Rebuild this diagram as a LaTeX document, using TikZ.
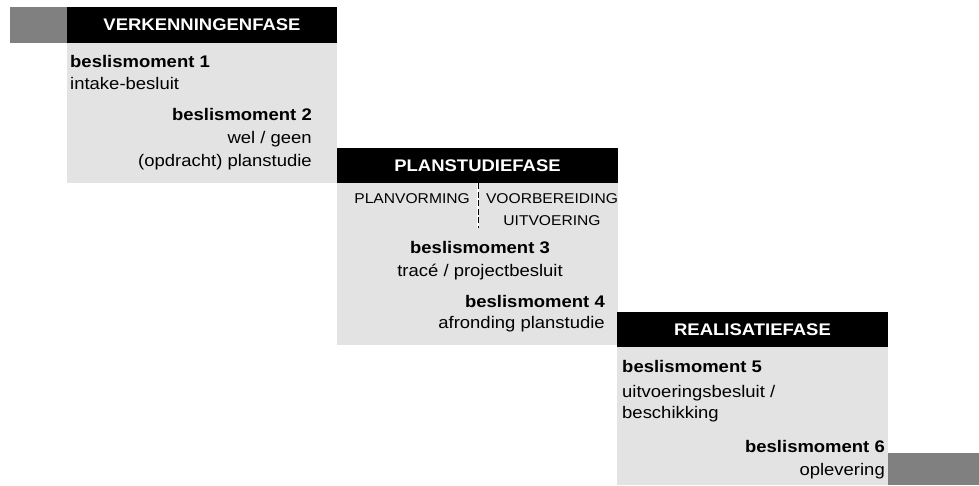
\documentclass[tikz,border=0pt]{standalone}
\usepackage{fontspec}
\setmainfont{Liberation Sans}[FakeStretch=1.1]
\usetikzlibrary{positioning}
\definecolor{vlakgrijs}{HTML}{E3E3E3}
\definecolor{tabgrijs}{HTML}{808080}

\tikzset{
	vlak/.style={fill=vlakgrijs},
	tab/.style={fill=tabgrijs},
	balk/.style={fill=black, text=white, inner sep=0, font=\fontsize{16.8}{20}\selectfont\bfseries},
	moment/.style={inner sep=0, font=\fontsize{16.8}{20}\selectfont\bfseries},
	uitleg/.style={inner sep=0, font=\fontsize{16.8}{20}\selectfont},
	deel/.style={inner sep=0, font=\fontsize{14.2}{17}\selectfont}
}

\begin{document}
\begin{tikzpicture}[x=1pt, y=-1pt]
		\useasboundingbox (0,0) rectangle (979,485);
		% grey tabs at both ends
		\fill[tab] (10,7) rectangle (67,43);
		\fill[tab] (888,453) rectangle (979,485);
		% (1) verkenningenfase
		\begin{scope}
			\fill[vlak] (67,43) rectangle (337,183);
			\node[balk, minimum width=270pt, minimum height=36pt] (verkenning) at (202,25) {VERKENNINGENFASE};
			\node[moment, anchor=base west] (bm1) at (70,67) {beslismoment 1};
			\node[uitleg, anchor=base west] (bm1a) at (70,89) {intake-besluit};
			\node[moment, anchor=base east] (bm2) at (312,120) {beslismoment 2};
			\node[uitleg, anchor=base east] (bm2a) at (312,143) {wel / geen};
			\node[uitleg, anchor=base east] (bm2b) at (312,166) {(opdracht) planstudie};
		\end{scope}
		% (2) planstudiefase
		\begin{scope}
			\fill[vlak] (337,183) rectangle (618,345);
			\node[balk, minimum width=281pt, minimum height=35pt] (planstudie) at (477.5,165.5) {PLANSTUDIEFASE};
			\node[deel, anchor=base east] (planvorming) at (470,203) {PLANVORMING};
			\node[deel, anchor=base] (voorbereiding) at (552,203) {VOORBEREIDING};
			\node[deel, anchor=base] (uitvoering) at (552,225) {UITVOERING};
			\coordinate (scheiding1) at (478,183);
			\coordinate (scheiding2) at (478,228);
			\draw[white, line width=1.2pt] (scheiding1) -- (scheiding2);
			\draw[black, line width=1pt, dash pattern=on 6pt off 2.5pt] (scheiding1) -- (scheiding2);
			\node[moment, anchor=base] (bm3) at (480,253) {beslismoment 3};
			\node[uitleg, anchor=base] (bm3a) at (480,276) {tracé / projectbesluit};
			\node[moment, anchor=base east] (bm4) at (605,307) {beslismoment 4};
			\node[uitleg, anchor=base east] (bm4a) at (605,328) {afronding planstudie};
		\end{scope}
		% (3) realisatiefase
		\begin{scope}
			\fill[vlak] (617,347) rectangle (888,485);
			\node[balk, minimum width=271pt, minimum height=35pt] (realisatie) at (752.5,329.5) {REALISATIEFASE};
			\node[moment, anchor=base west] (bm5) at (622,372) {beslismoment 5};
			\node[uitleg, anchor=base west] (bm5a) at (622,397) {uitvoeringsbesluit /};
			\node[uitleg, anchor=base west] (bm5b) at (622,418) {beschikking};
			\node[moment, anchor=base east] (bm6) at (885,452) {beslismoment 6};
			\node[uitleg, anchor=base east] (bm6a) at (885,475) {oplevering};
		\end{scope}
	\end{tikzpicture}
\end{document}
